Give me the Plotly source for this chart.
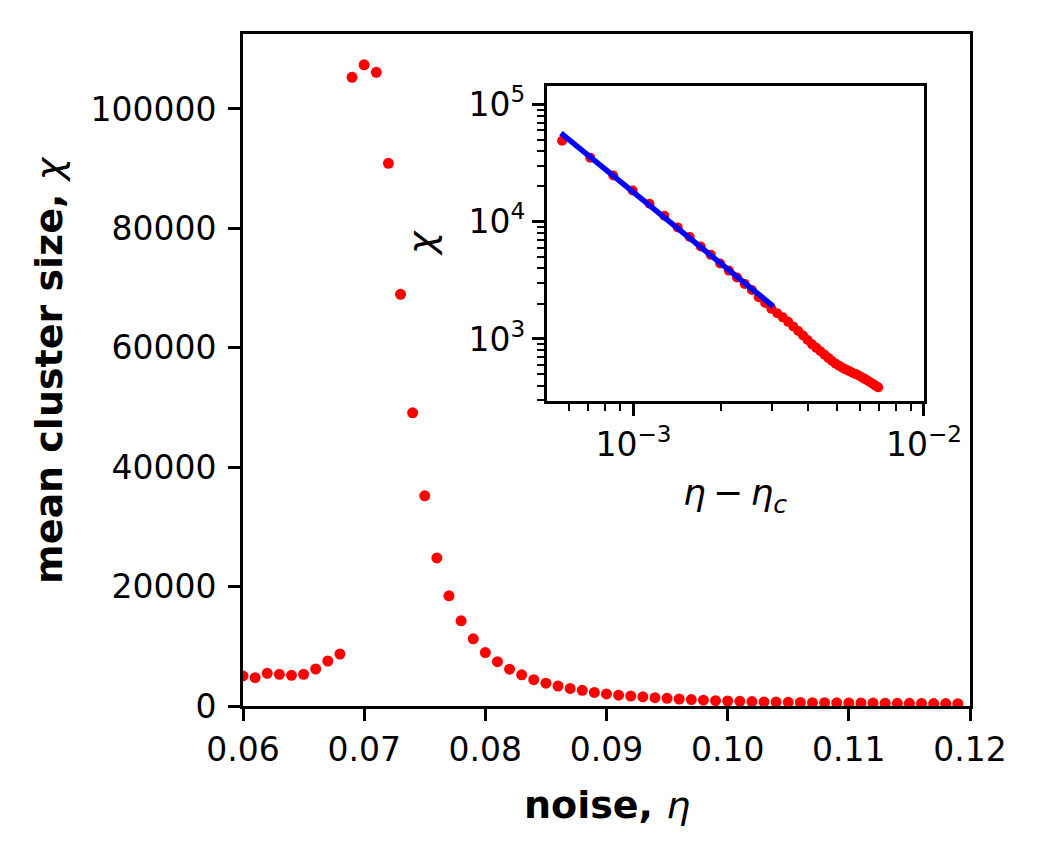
import plotly.graph_objects as go

# noise values (main plot x)
eta = [0.060, 0.061, 0.062, 0.063, 0.064, 0.065, 0.066, 0.067, 0.068, 0.069,
       0.070, 0.071, 0.072, 0.073, 0.074, 0.075, 0.076, 0.077, 0.078, 0.079,
       0.080, 0.081, 0.082, 0.083, 0.084, 0.085, 0.086, 0.087, 0.088, 0.089,
       0.090, 0.091, 0.092, 0.093, 0.094, 0.095, 0.096, 0.097, 0.098, 0.099,
       0.100, 0.101, 0.102, 0.103, 0.104, 0.105, 0.106, 0.107, 0.108, 0.109,
       0.110, 0.111, 0.112, 0.113, 0.114, 0.115, 0.116, 0.117, 0.118, 0.119]

# mean cluster size
chi = [5030, 4750, 5470, 5300, 5140, 5300, 6200, 7540, 8710, 105300,
       107400, 106150, 90900, 68960, 49100, 35200, 24800, 18450, 14260, 11250,
       8950, 7420, 6160, 5220, 4400, 3830, 3350, 2950, 2620, 2270,
       2030, 1815, 1660, 1530, 1400, 1280, 1170, 1070, 980, 900,
       840, 785, 735, 690, 650, 615, 590, 565, 548, 532,
       516, 502, 488, 472, 457, 443, 428, 414, 400, 387]

# inset: points above the critical noise, shifted axis
eta_c = 0.070
inset_scale = 0.142
inset_start = 0.074

# power law fit end points
fit_x = [5.63e-4, 3.03e-3]
fit_y = [56900, 1900]

main_xticks = [0.06, 0.07, 0.08, 0.09, 0.10, 0.11, 0.12]
main_xlabels = ["0.06", "0.07", "0.08", "0.09", "0.10", "0.11", "0.12"]
main_yticks = [0, 20000, 40000, 60000, 80000, 100000]
main_ylabels = ["0", "20000", "40000", "60000", "80000", "100000"]

inset_xticks = [1e-3, 1e-2]
inset_xlabels = ["10<sup>\u22123</sup>", "10<sup>\u22122</sup>"]
inset_yticks = [1e3, 1e4, 1e5]
inset_ylabels = ["10<sup>3</sup>", "10<sup>4</sup>", "10<sup>5</sup>"]

inset_x = [(e - eta_c) * inset_scale for e in eta if e >= inset_start - 1e-9]
inset_chi = [c for e, c in zip(eta, chi) if e >= inset_start - 1e-9]

minor_x = [m * 10.0 ** k for k in (-4, -3) for m in range(2, 10)]
minor_y = [m * 10.0 ** k for k in (2, 3, 4) for m in range(2, 10)]

FONT = "DejaVu Sans"
tickfont = dict(family=FONT, size=33, color="black")

fig = go.Figure()
fig.add_trace(go.Scatter(x=eta, y=chi, mode="markers",
                         marker=dict(color="#ff0000", size=11),
                         xaxis="x", yaxis="y"))
fig.add_trace(go.Scatter(x=inset_x, y=inset_chi, mode="markers",
                         marker=dict(color="#ff0000", size=10),
                         xaxis="x2", yaxis="y2"))
fig.add_trace(go.Scatter(x=fit_x, y=fit_y, mode="lines",
                         line=dict(color="#0000ff", width=5.5),
                         xaxis="x2", yaxis="y2"))

axis_common = dict(showline=True, linecolor="black", linewidth=3, mirror=True,
                   showgrid=False, zeroline=False, ticks="outside",
                   ticklen=12, tickwidth=3, tickcolor="black", tickfont=tickfont)

# the page body keeps an 8px margin, so the figure is 8px smaller
fig.update_layout(
    width=1030, height=847,
    margin=dict(l=235, r=68, t=26, b=149),
    plot_bgcolor="white", paper_bgcolor="white",
    showlegend=False,
    font=dict(family=FONT, color="black"),
    xaxis=dict(domain=[0, 1], range=[0.06, 0.12], tickmode="array",
               tickvals=main_xticks, ticktext=main_xlabels, anchor="y",
               **axis_common),
    yaxis=dict(domain=[0, 1], range=[0, 112560], tickmode="array",
               tickvals=main_yticks, ticktext=main_ylabels, anchor="x",
               ticklabelstandoff=5, **axis_common),
    xaxis2=dict(domain=[0.418, 0.9367], type="log", range=[-3.298, -2.0],
                tickmode="array", tickvals=inset_xticks, ticktext=inset_xlabels,
                anchor="y2",
                minor=dict(tickmode="array", tickvals=minor_x, ticks="outside",
                           ticklen=7, tickwidth=2, tickcolor="black"),
                **axis_common),
    yaxis2=dict(domain=[0.4539, 0.9219], type="log", range=[2.4714, 5.1535],
                tickmode="array", tickvals=inset_yticks, ticktext=inset_ylabels,
                anchor="x2",
                minor=dict(tickmode="array", tickvals=minor_y, ticks="outside",
                           ticklen=7, tickwidth=2, tickcolor="black"),
                **axis_common),
)

labfont = dict(family=FONT, size=38, color="black")
fig.add_annotation(text="<b>noise, </b><i>\u03b7</i>", xref="paper", yref="paper",
                   x=0.5, y=-0.1473, xanchor="center", yanchor="middle",
                   showarrow=False, font=labfont)
fig.add_annotation(text="<b>mean cluster size, </b><i>\u03c7</i>", xref="paper", yref="paper",
                   x=-0.2669, y=0.5, xanchor="center", yanchor="middle",
                   textangle=-90, showarrow=False, font=labfont)
fig.add_annotation(text="<i>\u03b7</i>\u2009\u2212\u2009<i>\u03b7</i><sub><i>c</i></sub>",
                   xref="paper", yref="paper", x=0.6774, y=0.3135,
                   xanchor="center", yanchor="middle", showarrow=False,
                   font=dict(family=FONT, size=36, color="black"))
fig.add_annotation(text="<i>\u03c7</i>", xref="paper", yref="paper",
                   x=0.2448, y=0.689, xanchor="center", yanchor="middle",
                   textangle=-90, showarrow=False, font=labfont)

fig.write_html("out.html")
